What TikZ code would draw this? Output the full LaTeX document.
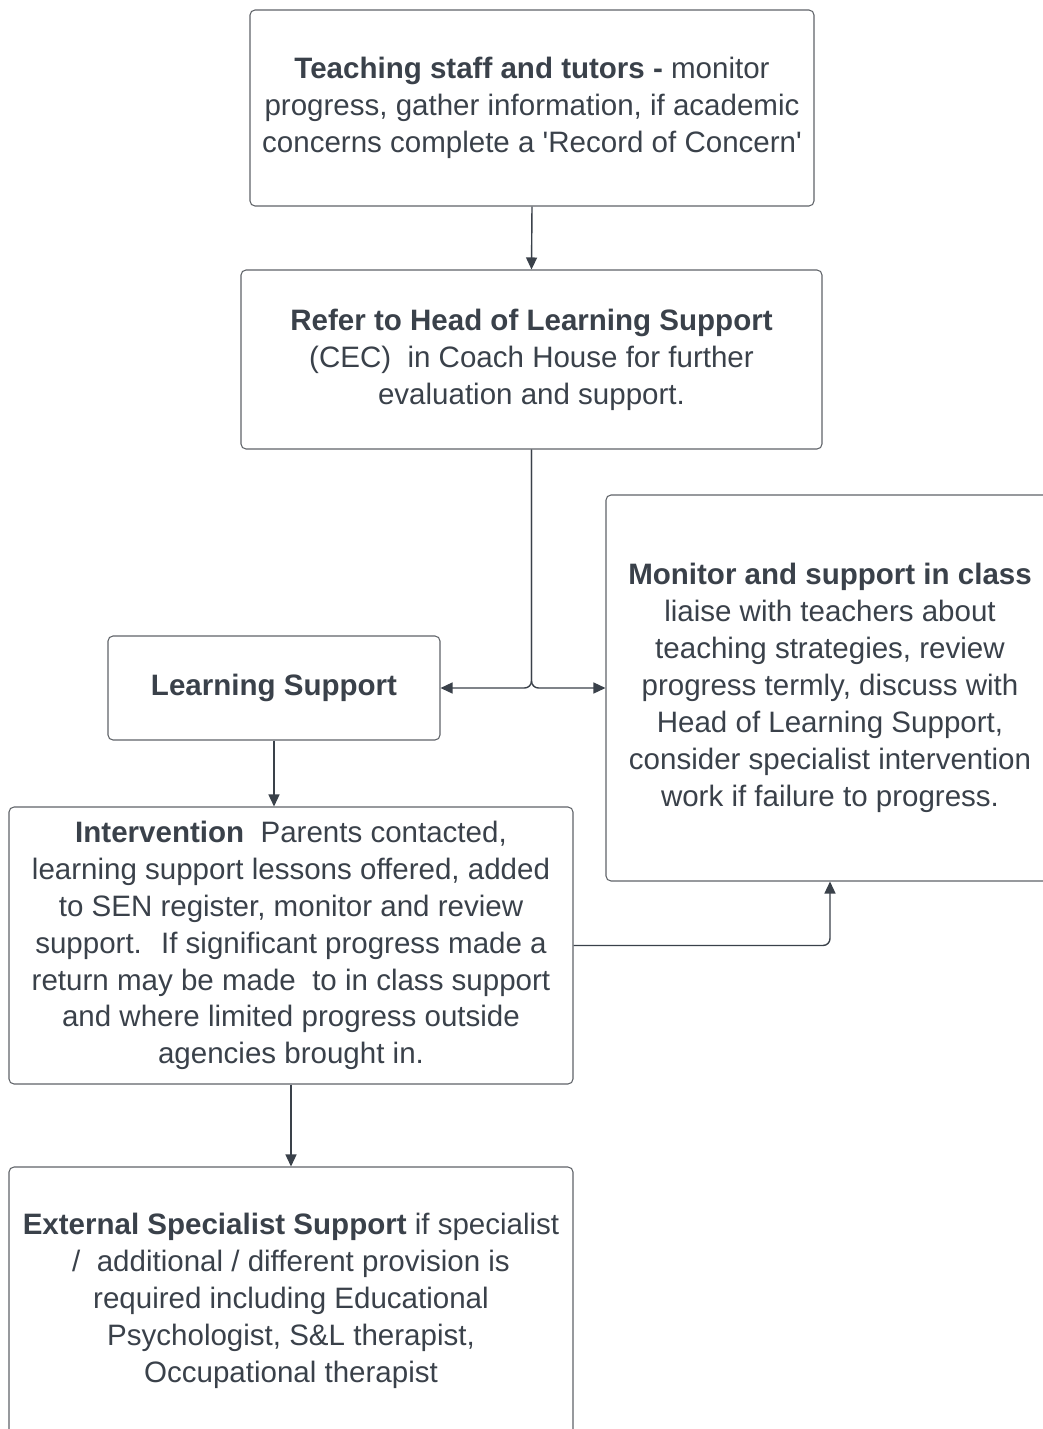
\documentclass[tikz,border=0pt]{standalone}
\usepackage{fontspec}
\setmainfont{Liberation Sans}
\usepackage{xcolor}
\usetikzlibrary{arrows.meta}
\definecolor{inkgray}{HTML}{3A414A}
\definecolor{linegray}{HTML}{5F6368}

\begin{document}
\begin{tikzpicture}
    \tikzstyle{stage} = [rectangle, draw=linegray, line width=0.6pt, rounded corners=1mm, align=center, text=inkgray, font=\fontsize{16.8}{21}\selectfont, inner sep=0pt]
    \tikzstyle{link} = [draw=inkgray, line width=0.8pt, rounded corners=1.4mm, -{Triangle[length=2.4mm, width=2.2mm]}]
    \useasboundingbox (0,0) rectangle (20.84,-28.58);
    \node[stage, minimum width=11.28cm, minimum height=3.92cm] (teach) at (10.64,-2.16)
        {\textbf{Teaching staff and tutors -} monitor\\progress, gather information, if academic\\concerns complete a \textquotesingle Record of Concern\textquotesingle};
    \node[stage, minimum width=11.62cm, minimum height=3.58cm] (refer) at (10.63,-7.19)
        {\textbf{Refer to Head of Learning Support}\\(CEC)~ in Coach House for further\\evaluation and support.};
    \node[stage, minimum width=6.64cm, minimum height=2.08cm] (ls) at (5.48,-13.76)
        {\textbf{Learning Support}};
    \node[stage, minimum width=8.96cm, minimum height=7.72cm] (mon) at (16.6,-13.76)
        {\textbf{Monitor and support in class}\\liaise with teachers about\\teaching strategies, review\\progress termly, discuss with\\Head of Learning Support,\\consider specialist intervention\\work if failure to progress.};
    \node[stage, minimum width=11.28cm, minimum height=5.54cm] (int) at (5.82,-18.91)
        {\textbf{Intervention}~ Parents contacted,\\learning support lessons offered, added\\to SEN register, monitor and review\\support.~ If significant progress made a\\return may be made~ to in class support\\and where limited progress outside\\agencies brought in.};
    \node[stage, minimum width=11.28cm, minimum height=5.36cm] (ext) at (5.82,-26.02)
        {\textbf{External Specialist Support} if specialist\\/~ additional / different provision is\\required including Educational\\Psychologist, S\&L therapist,\\Occupational therapist};
    % connectors
    \draw[link] (teach.south) -- (refer.north);
    \draw[link] (refer.south) |- (ls.east);
    \draw[link] (refer.south) |- (mon.west);
    \draw[link] (ls.south) -- (ls.south |- int.north);
    \draw[link] (int.east) -| (mon.south);
    \draw[link] (int.south) -- (ext.north);
\end{tikzpicture}
\end{document}
